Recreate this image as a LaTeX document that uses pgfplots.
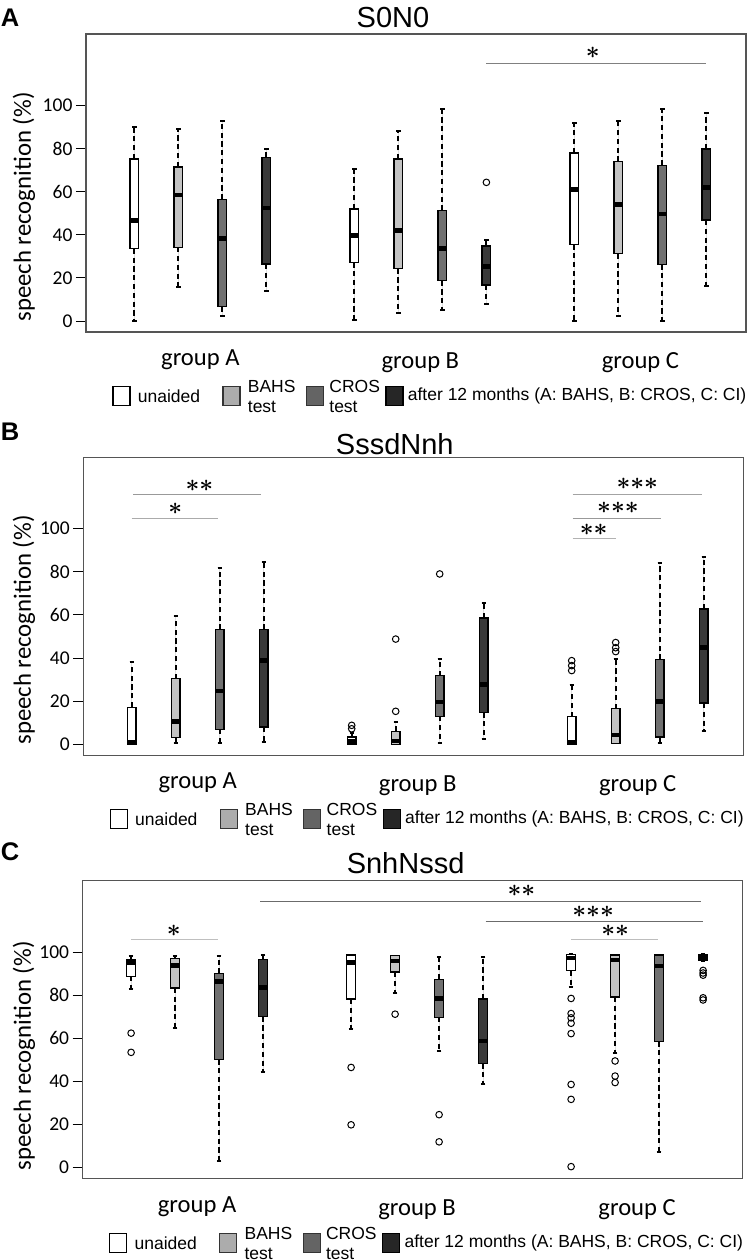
\documentclass[border=0pt]{standalone}
\usepackage{fontspec}
\setmainfont{Liberation Sans}
\newfontfamily\carlito{Carlito}
\usepackage{pgfplots}
\pgfplotsset{compat=1.18}
\usepgfplotslibrary{statistics}

\definecolor{cBAHS}{RGB}{195,195,195}
\definecolor{cCROS}{RGB}{112,112,112}
\definecolor{cAfter}{RGB}{58,58,58}
\definecolor{lBAHS}{RGB}{172,172,172}
\definecolor{lCROS}{RGB}{100,100,100}
\definecolor{lAfter}{RGB}{38,38,38}
\definecolor{frameC}{RGB}{85,85,85}

\newcommand\tickfont{\carlito\fontsize{9.75}{11}\selectfont}
\newcommand\grpfont{\carlito\fontsize{12.3}{14}\selectfont}
\newcommand\ylfont{\carlito\fontsize{12.4}{14}\selectfont}
\newcommand\legfont{\fontsize{8.75}{10}\selectfont}
\newcommand\ttlfont{\fontsize{14.5}{17}\selectfont}
\newcommand\starfont{\fontsize{11.5}{13}\selectfont\boldmath}

\tikzset{
  sig/.style={line width=0.6pt, draw=#1},
  star/.style={font=\starfont, inner sep=0pt, text height=0.47em, text depth=0pt},
}
\pgfplotsset{
  panel/.style={
    scale only axis, width=330pt, height=149pt, anchor=north west,
    xmin=-0.1, xmax=14.9, ymin=-5.1, ymax=133.1,
    xtick=\empty, ytick={0,20,...,100},
    ytick pos=left, tick align=outside, major tick length=5pt,
    tick style={black, line width=0.5pt},
    axis line style={frameC, line width=0.65pt},
    yticklabel style={font=\tickfont, inner sep=1.6pt},
    /pgf/number format/assume math mode=true,
    clip=false,
    boxplot/draw direction=y,
    boxplot/box extend=0.2,
    boxplot/whisker extend=0.1,
    boxplot/every median/.style={black, line width=2.3pt},
    boxplot/every whisker/.style={black, line width=1pt, dash pattern=on 2.6pt off 1.8pt},
  },
  bx/.style={draw=black, line width=0.65pt, fill=#1, mark=o, mark size=1.65pt,
    mark options={black, solid, line width=0.5pt}},
}

% one box: colour, position, lower whisker, Q1, median, Q3, upper whisker
\newcommand\bp[7]{\addplot[bx=#1, boxplot prepared={draw position=#2,
  lower whisker=#3, lower quartile=#4, median=#5, upper quartile=#6, upper whisker=#7}]}

% legend and group names under a panel: frame left, frame bottom (px)
\newcommand\legendrow[2]{%
  \filldraw[draw=black, line width=0.65pt, fill=white] (#1+27,#2+54.5) rectangle ++(17,19);
  \node[anchor=west, font=\legfont, inner sep=0] at (#1+51.5,#2+64) {unaided};
  \filldraw[draw=black!80, line width=0.65pt, fill=lBAHS] (#1+137,#2+54.5) rectangle ++(17,19);
  \node[anchor=west, font=\legfont, inner sep=0, align=left] at (#1+161.5,#2+64) {BAHS\\test};
  \filldraw[draw=black!80, line width=0.65pt, fill=lCROS] (#1+220.5,#2+54.5) rectangle ++(17,19);
  \node[anchor=west, font=\legfont, inner sep=0, align=left] at (#1+243,#2+64) {CROS\\test};
  \filldraw[draw=black, line width=0.65pt, fill=lAfter] (#1+300,#2+54.5) rectangle ++(17,19);
  \node[anchor=west, font=\legfont, inner sep=0] at (#1+321.5,#2+64) {after 12 months (A: BAHS, B: CROS, C: CI)};
  \node[anchor=base, font=\grpfont] at (#1+114.4,#2+33.5) {group A};
  \node[anchor=base, font=\grpfont] at (#1+334.4,#2+36.5) {group B};
  \node[anchor=base, font=\grpfont] at (#1+554.4,#2+36.5) {group C};
}

\begin{document}
\begin{tikzpicture}
\path[use as bounding box] (0,0) rectangle (374.5pt,-630pt);

% ---------------- A: S0N0
\begin{axis}[panel, at={(43pt,-17pt)}]
  \bp{white}{1}{0}{33.5}{46.5}{75.1}{89.8} coordinates {};
  \bp{cBAHS}{2}{15.6}{34.2}{58.4}{71.4}{88.9} coordinates {};
  \bp{cCROS}{3}{2.3}{6.8}{38.2}{56.4}{92.9} coordinates {};
  \bp{cAfter}{4}{14.1}{26.4}{52.5}{75.9}{79.8} coordinates {};
  \bp{white}{6}{0.6}{27.2}{39.6}{51.9}{70.3} coordinates {};
  \bp{cBAHS}{7}{3.6}{24.3}{41.9}{75.1}{88.1} coordinates {};
  \bp{cCROS}{8}{4.9}{18.7}{33.5}{51.2}{98.1} coordinates {};
  \bp{cAfter}{9}{7.7}{16.7}{25.3}{34.8}{37.7} coordinates {(9,64.3)};
  \bp{white}{11}{0}{35.5}{61.1}{77.9}{91.7} coordinates {};
  \bp{cBAHS}{12}{2.5}{31.2}{54.1}{73.9}{92.9} coordinates {};
  \bp{cCROS}{13}{0}{26.3}{49.6}{72.2}{98.1} coordinates {};
  \bp{cAfter}{14}{16.4}{46.8}{62.0}{79.8}{96.3} coordinates {};
  \draw[sig=black!50] (9,119.5) -- (14,119.5);
  \node[star] at (11.42,124.1) {$\ast$};
\end{axis}

% ---------------- B: SssdNnh
\begin{axis}[panel, at={(41.65pt,-228.65pt)}]
  \bp{white}{1}{0}{0}{0.8}{17.2}{38.2} coordinates {};
  \bp{cBAHS}{2}{0.6}{3.1}{10.5}{30.4}{59.5} coordinates {};
  \bp{cCROS}{3}{0.6}{7.0}{24.7}{53.2}{81.8} coordinates {};
  \bp{cAfter}{4}{0.9}{8.0}{38.9}{53.2}{84.5} coordinates {};
  \bp{white}{6}{0}{0}{1.4}{3.4}{5.3} coordinates {(6,8.8) (6,7.2)};
  \bp{cBAHS}{7}{0}{0}{1.6}{6.0}{10.2} coordinates {(7,48.8) (7,15.3)};
  \bp{cCROS}{8}{0.6}{13.0}{19.6}{31.8}{39.6} coordinates {(8,79.0)};
  \bp{cAfter}{9}{2.5}{14.8}{27.7}{58.6}{65.4} coordinates {};
  \bp{white}{11}{0}{0}{0.8}{12.8}{27.7} coordinates {(11,38.8) (11,36.5) (11,34.2)};
  \bp{cBAHS}{12}{0.5}{0.5}{4.3}{16.5}{39.6} coordinates {(12,47.2) (12,44.8) (12,43.0)};
  \bp{cCROS}{13}{0.6}{3.4}{19.9}{39.3}{84.1} coordinates {};
  \bp{cAfter}{14}{6.0}{19.2}{45.0}{62.8}{87.0} coordinates {};
  \draw[sig=black!40] (1.03,115.8) -- (3.93,115.8);
  \node[star] at (2.54,119.6) {${\ast}{\ast}$};
  \draw[sig=black!33] (1,104.9) -- (2.97,104.9);
  \node[star] at (1.99,108.8) {$\ast$};
  \draw[sig=black!36] (11.02,116) -- (13.96,116);
  \node[star] at (12.49,120.4) {${\ast}{\ast}{\ast}$};
  \draw[sig=black!40] (11.02,104.6) -- (13.03,104.6);
  \node[star] at (12.05,109.1) {${\ast}{\ast}{\ast}$};
  \draw[sig=black!30] (11.02,95.5) -- (12.0,95.5);
  \node[star] at (11.5,99.1) {${\ast}{\ast}$};
\end{axis}

% ---------------- C: SnhNssd
\begin{axis}[panel, at={(41.35pt,-440.35pt)}]
  \bp{white}{1}{83.0}{88.8}{95.2}{96.7}{98.4} coordinates {(1,62.4) (1,53.5)};
  \bp{cBAHS}{2}{64.7}{83.4}{93.9}{97.1}{98.4} coordinates {};
  \bp{cCROS}{3}{3.0}{50.2}{86.3}{90.0}{98.4} coordinates {};
  \bp{cAfter}{4}{44.6}{70.1}{83.7}{96.7}{98.6} coordinates {};
  \bp{white}{6}{64.4}{78.2}{95.2}{98.6}{98.6} coordinates {(6,46.5) (6,19.9)};
  \bp{cBAHS}{7}{80.9}{90.7}{95.8}{98.3}{98.3} coordinates {(7,71.2)};
  \bp{cCROS}{8}{54.1}{69.8}{78.4}{87.4}{97.7} coordinates {(8,24.6) (8,12.0)};
  \bp{cAfter}{9}{38.7}{48.4}{58.8}{78.2}{97.7} coordinates {};
  \bp{white}{11}{84.0}{91.3}{97.3}{98.9}{98.9} coordinates {(11,78.5) (11,71.5) (11,69.5) (11,67.0) (11,62.2) (11,38.6) (11,31.7) (11,0.5)};
  \bp{cBAHS}{12}{53.2}{79.2}{96.4}{98.6}{98.6} coordinates {(12,49.5) (12,42.5) (12,39.5)};
  \bp{cCROS}{13}{7.5}{58.6}{93.6}{98.6}{98.6} coordinates {};
  \bp{cAfter}{14}{96.0}{96.0}{97.5}{99.0}{99.0} coordinates {(14,91.5) (14,90.3) (14,89.3) (14,78.8) (14,77.8)};
  \draw[sig=black!25] (1,105.8) -- (2.98,105.8);
  \node[star] at (1.97,109.6) {$\ast$};
  \draw[sig=black!58] (3.93,123.3) -- (13.95,123.3);
  \node[star] at (9.87,128) {${\ast}{\ast}$};
  \draw[sig=black!58] (9.06,114.3) -- (14.0,114.3);
  \node[star] at (11.5,118.2) {${\ast}{\ast}{\ast}$};
  \draw[sig=black!26] (11.0,105.8) -- (12.97,105.8);
  \node[star] at (12.0,109.6) {${\ast}{\ast}$};
\end{axis}

% ---------------- titles, labels, legends (pixel coordinates)
\begin{scope}[x=0.5pt, y=-0.5pt]
  \node[anchor=base west, inner sep=0, font=\bfseries\fontsize{12.75}{15}\selectfont] at (0.5,26.7) {A};
  \node[anchor=base west, inner sep=0, font=\bfseries\fontsize{12.75}{15}\selectfont] at (0.5,440) {B};
  \node[anchor=base west, inner sep=0, font=\bfseries\fontsize{12.75}{15}\selectfont] at (0.5,860) {C};
  \node[anchor=base, inner sep=0, font=\ttlfont] at (393,27) {S0N0};
  \node[anchor=base, inner sep=0, font=\ttlfont] at (394.8,454) {SssdNnh};
  \node[anchor=base, inner sep=0, font=\ttlfont] at (405.6,873.3) {SnhNssd};
  \node[rotate=90, font=\ylfont] at (24,207) {speech recognition (\%)};
  \node[rotate=90, font=\ylfont] at (24,630) {speech recognition (\%)};
  \node[rotate=90, font=\ylfont] at (24,1056) {speech recognition (\%)};
  \legendrow{86}{332}
  \legendrow{83.3}{755.3}
  \legendrow{82.7}{1179}
\end{scope}
\end{tikzpicture}
\end{document}
